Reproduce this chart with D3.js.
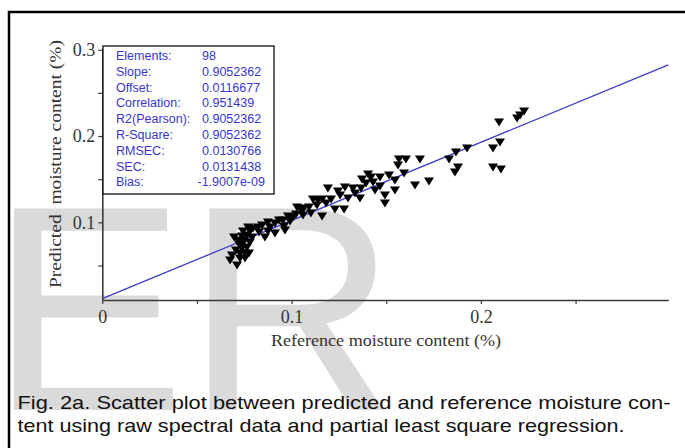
<html>
	<head>
		<title>Fig. 2a | PLS moisture</title>
		<script src="https://d3js.org/d3.v7.min.js" charset="utf-8"></script>
		<style>
		body {
			margin: 0;
			background: white;
			}
		</style>
	</head>
	<body>
	<script>
	//reference (measured) moisture content, x
	var refMoisture = [0.2228, 0.2207, 0.2191, 0.2096, 0.2101, 0.2064, 0.1927, 0.1868, 0.1832, 0.1879,
		0.1863, 0.2064, 0.2106, 0.1678, 0.1567, 0.1604, 0.1562, 0.1594, 0.1652, 0.1726,
		0.1546, 0.1546, 0.1493, 0.1493, 0.1404, 0.1467, 0.1372, 0.1367, 0.1430, 0.1441,
		0.1361, 0.1298, 0.1282, 0.1245, 0.1192, 0.1113, 0.1161, 0.1208, 0.1134, 0.1182,
		0.1229, 0.1277, 0.1161, 0.1060, 0.1029, 0.1055, 0.1060, 0.0981, 0.0955, 0.0992,
		0.0912, 0.0875, 0.0912, 0.0965, 0.0859, 0.0886, 0.0823, 0.0796, 0.0780, 0.0764,
		0.0738, 0.0696, 0.0791, 0.0780, 0.0743, 0.0738, 0.0764, 0.0727, 0.0754, 0.0727,
		0.0754, 0.0675, 0.0712, 0.0775, 0.0749, 0.0722, 0.0844, 0.0933, 0.1007, 0.1092,
		0.1139, 0.1256, 0.1324, 0.1393, 0.1419, 0.1515, 0.1335, 0.1467, 0.1102, 0.1023,
		0.0960, 0.0828, 0.0770, 0.0717, 0.0743, 0.0875, 0.0706, 0.0685];
	//predicted moisture content, y
	var predMoisture = [0.2290, 0.2244, 0.2209, 0.2163, 0.1931, 0.1861, 0.1861, 0.1815, 0.1734, 0.1641,
		0.1583, 0.1641, 0.1618, 0.1734, 0.1734, 0.1734, 0.1664, 0.1572, 0.1433, 0.1479,
		0.1490, 0.1375, 0.1317, 0.1224, 0.1560, 0.1525, 0.1502, 0.1398, 0.1467, 0.1375,
		0.1282, 0.1282, 0.1409, 0.1363, 0.1398, 0.1270, 0.1270, 0.1270, 0.1201, 0.1224,
		0.1154, 0.1154, 0.1073, 0.1166, 0.1178, 0.1131, 0.1085, 0.1073, 0.1027, 0.1015,
		0.0992, 0.1004, 0.0876, 0.0911, 0.0830, 0.0946, 0.0946, 0.0934, 0.0900, 0.0853,
		0.0842, 0.0830, 0.0830, 0.0772, 0.0760, 0.0703, 0.0714, 0.0645, 0.0645, 0.0587,
		0.0587, 0.0564, 0.0506, 0.0645, 0.0795, 0.0749, 0.0969, 0.1027, 0.1062, 0.1178,
		0.1259, 0.1317, 0.1398, 0.1456, 0.1525, 0.1548, 0.1340, 0.1421, 0.1108, 0.1097,
		0.0957, 0.0888, 0.0946, 0.0795, 0.0900, 0.0900, 0.0679, 0.0621];

	//regression statistics shown in the box
	var statNames = ["Elements:", "Slope:", "Offset:", "Correlation:", "R2(Pearson):", "R-Square:", "RMSEC:", "SEC:", "Bias:"];
	var statValues = ["98", "0.9052362", "0.0116677", "0.951439", "0.9052362", "0.9052362", "0.0130766", "0.0131438", "-1.9007e-09"];

	//ticks
	var xTicks = [0, 0.05, 0.1, 0.15, 0.2, 0.25];
	var yTicks = [0.05, 0.1, 0.15, 0.2, 0.25, 0.3];
	var xTickLabels = ["0", "", "0.1", "", "0.2", ""];
	var yTickLabels = ["", "0.1", "", "0.2", "", "0.3"];

	var caption = ["Fig. 2a. Scatter plot between predicted and reference moisture con-",
		"tent using raw spectral data and partial least square regression."];

	var width = 685;
	var height = 448;

	var svg = d3.select("body")
		.append("svg")
		.attr("width", width)
		.attr("height", height);

	//grey watermark letters behind everything
	svg.append("text")
		.attr("x", -10)
		.attr("y", 410)
		.attr("font-family", "Liberation Sans, Arial, sans-serif")
		.attr("font-size", 293)
		.attr("fill", "#dadada")
		.text("ER");

	//outer frame
	svg.append("rect")
		.attr("x", 9)
		.attr("y", 12)
		.attr("width", 700)
		.attr("height", 460)
		.attr("fill", "none")
		.attr("stroke", "#000")
		.attr("stroke-width", 2.5);

	//scales
	var x = d3.scaleLinear().domain([0, 0.299]).range([102.3, 668.3]);
	var y = d3.scaleLinear().domain([0.01, 0.302]).range([300, 48]);

	//axes
	var xAxis = svg.append("g")
		.attr("transform", "translate(0," + y.range()[0] + ")")
		.call(d3.axisBottom(x).tickValues(xTicks).tickSize(4).tickSizeOuter(0).tickPadding(6)
			.tickFormat(function(d, i) { return xTickLabels[i]; }));
	var yAxis = svg.append("g")
		.attr("transform", "translate(" + x.range()[0] + ",0)")
		.call(d3.axisLeft(y).tickValues(yTicks).tickSize(4).tickSizeOuter(0).tickPadding(3)
			.tickFormat(function(d, i) { return yTickLabels[i]; }));

	[xAxis, yAxis].forEach(function(a) {
		a.select(".domain").attr("stroke", "#3a3a3a").attr("stroke-width", 1.6);
		a.selectAll(".tick line").attr("stroke", "#3a3a3a").attr("stroke-width", 1.2);
		a.selectAll(".tick text")
			.attr("font-family", "Liberation Serif, Times New Roman, serif")
			.attr("font-size", 18)
			.attr("fill", "#333");
	});

	//axis titles
	svg.append("text")
		.attr("x", 386)
		.attr("y", 346)
		.attr("text-anchor", "middle")
		.attr("font-family", "Liberation Serif, Times New Roman, serif")
		.attr("font-size", 16)
		.attr("fill", "#333")
		.attr("textLength", 230)
		.attr("lengthAdjust", "spacingAndGlyphs")
		.text("Reference moisture content (%)");

	svg.append("text")
		.attr("transform", "translate(61,164) rotate(-90)")
		.attr("text-anchor", "middle")
		.attr("font-family", "Liberation Serif, Times New Roman, serif")
		.attr("font-size", 16)
		.attr("fill", "#333")
		.attr("textLength", 248)
		.attr("lengthAdjust", "spacingAndGlyphs")
		.attr("xml:space", "preserve")
		.text("Predicted  moisture content (%)");

	//regression line y = slope*x + offset
	var slope = parseFloat(statValues[1]);
	var offset = parseFloat(statValues[2]);
	svg.append("line")
		.attr("x1", x(0))
		.attr("y1", y(offset))
		.attr("x2", x(x.domain()[1]))
		.attr("y2", y(slope * x.domain()[1] + offset))
		.attr("stroke", "#3c3cc8")
		.attr("stroke-width", 1.3);

	//points, as downward triangles
	svg.append("g")
		.selectAll("path")
		.data(refMoisture)
		.enter()
		.append("path")
		.attr("d", "M-5,-3.5L5,-3.5L0,4.5Z")
		.attr("transform", function(d, i) { return "translate(" + x(d) + "," + y(predMoisture[i]) + ")"; })
		.attr("fill", "#000");

	//statistics box
	var box = svg.append("g");
	box.append("rect")
		.attr("x", 103)
		.attr("y", 46)
		.attr("width", 171)
		.attr("height", 148)
		.attr("fill", "white")
		.attr("stroke", "#111")
		.attr("stroke-width", 1.3);
	box.selectAll(".statName")
		.data(statNames)
		.enter()
		.append("text")
		.attr("class", "statName")
		.attr("x", 116)
		.attr("y", function(d, i) { return 60 + i * 15.8; })
		.attr("font-family", "Liberation Sans, Arial, sans-serif")
		.attr("font-size", 12.5)
		.attr("fill", "#3636d0")
		.text(function(d) { return d; });
	box.selectAll(".statValue")
		.data(statValues)
		.enter()
		.append("text")
		.attr("class", "statValue")
		.attr("x", function(d) { return d.charAt(0) == "-" ? 197.5 : 202; })
		.attr("y", function(d, i) { return 60 + i * 15.8; })
		.attr("font-family", "Liberation Sans, Arial, sans-serif")
		.attr("font-size", 12.5)
		.attr("fill", "#3636d0")
		.text(function(d) { return d; });

	//caption
	var capLengths = [653, 607];
	svg.selectAll(".caption")
		.data(caption)
		.enter()
		.append("text")
		.attr("class", "caption")
		.attr("x", 17.5)
		.attr("y", function(d, i) { return 409 + i * 23; })
		.attr("font-family", "Liberation Sans, Arial, sans-serif")
		.attr("font-size", 19)
		.attr("fill", "#111")
		.attr("textLength", function(d, i) { return capLengths[i]; })
		.attr("lengthAdjust", "spacingAndGlyphs")
		.text(function(d) { return d; });
	</script>
	</body>
</html>
